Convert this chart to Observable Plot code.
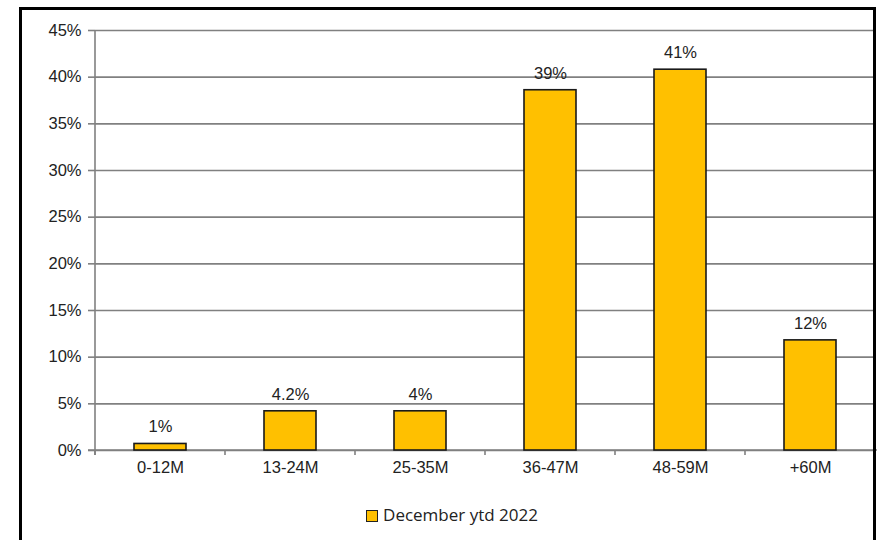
<!DOCTYPE html>
<html>
<head>
<meta charset="utf-8">
<script src="https://cdn.jsdelivr.net/npm/d3@7"></script>
<script src="https://cdn.jsdelivr.net/npm/@observablehq/plot@0.6"></script>
<style>
  html, body { margin: 0; padding: 0; background: #fff; overflow: hidden; }
  #wrap { position: relative; width: 877px; height: 540px; }
  #chart { position: absolute; left: 0; top: 0; }
  #frame { position: absolute; left: 19px; top: 7px; width: 851px; height: 560px;
           border: 3px solid #000; border-bottom: none; pointer-events: none; }
  #legend { position: absolute; top: 503px; left: 0; width: 904px; text-align: center;
            font-family: "Open Sans", sans-serif; font-size: 17px; color: #222; }
  #legend .sw { display: inline-block; width: 10px; height: 10px; background: #FFC000;
                border: 1.5px solid #222; vertical-align: -1px; margin-right: 5px; }
</style>
</head>
<body>
<div id="wrap">
  <div id="chart"></div>
  <div id="frame"></div>
  <div id="legend"><span class="sw"></span><span id="legtext"></span></div>
</div>
<script>
const categories = ["0-12M", "13-24M", "25-35M", "36-47M", "48-59M", "+60M"];
const values = [0.7, 4.2, 4.2, 38.6, 40.8, 11.8];
const valueLabels = ["1%", "4.2%", "4%", "39%", "41%", "12%"];
const yTicks = [0, 5, 10, 15, 20, 25, 30, 35, 40, 45];
const seriesName = "December ytd 2022";

const data = categories.map((c, i) => ({cat: c, value: values[i], label: valueLabels[i]}));
const padInner = 0.6;

const font = "'Liberation Sans', Arial, sans-serif";
const fs = 16.5;

const plot = Plot.plot({
  width: 877,
  height: 480,
  marginLeft: 95,
  marginRight: 2,
  marginTop: 30,
  marginBottom: 30,
  style: {fontFamily: font, fontSize: fs + "px", color: "#222", background: "transparent"},
  x: {domain: categories, paddingInner: padInner, paddingOuter: padInner / 2, label: null},
  y: {domain: [0, 45], label: null},
  marks: [
    Plot.gridY(yTicks, {stroke: "#808080", strokeOpacity: 1, strokeWidth: 1.6}),
    Plot.axisY(yTicks, {tickFormat: d => d + "%", tickSize: 7, tickPadding: 7, stroke: "#808080", strokeWidth: 1.6, fontSize: fs, fill: "#222"}),
    Plot.axisX({tickSize: 0, tickPadding: 11, fontSize: fs, fill: "#222"}),
    // axis lines and category boundary ticks, derived from the scales
    Plot.ruleX(categories, {
      x: d => d,
      render: (index, scales, values, dims) => {
        const x = scales.x;
        const step = x(categories[1]) - x(categories[0]);
        const y0 = scales.y(0);
        const g = d3.create("svg:g").attr("stroke", "#808080").attr("stroke-width", 1.6);
        const bounds = categories.map(c => x(c) - step * padInner / 2);
        bounds.push(bounds[bounds.length - 1] + step);
        for (const b of bounds) {
          g.append("line").attr("x1", b).attr("x2", b).attr("y1", y0).attr("y2", y0 + 5);
        }
        g.append("line").attr("x1", dims.marginLeft).attr("x2", dims.marginLeft)
          .attr("y1", dims.marginTop).attr("y2", y0 + 5);
        g.append("line").attr("x1", dims.marginLeft - 7).attr("x2", dims.width)
          .attr("y1", y0).attr("y2", y0);
        return g.node();
      }
    }),
    Plot.barY(data, {x: "cat", y: "value", fill: "#FFC000", stroke: "#1a1a1a", strokeWidth: 1.6}),
    Plot.text(data, {x: "cat", y: "value", text: "label", dy: -17, fontSize: fs, fill: "#222"})
  ]
});
document.getElementById("chart").appendChild(plot);
document.getElementById("legtext").textContent = seriesName;
</script>
</body>
</html>
